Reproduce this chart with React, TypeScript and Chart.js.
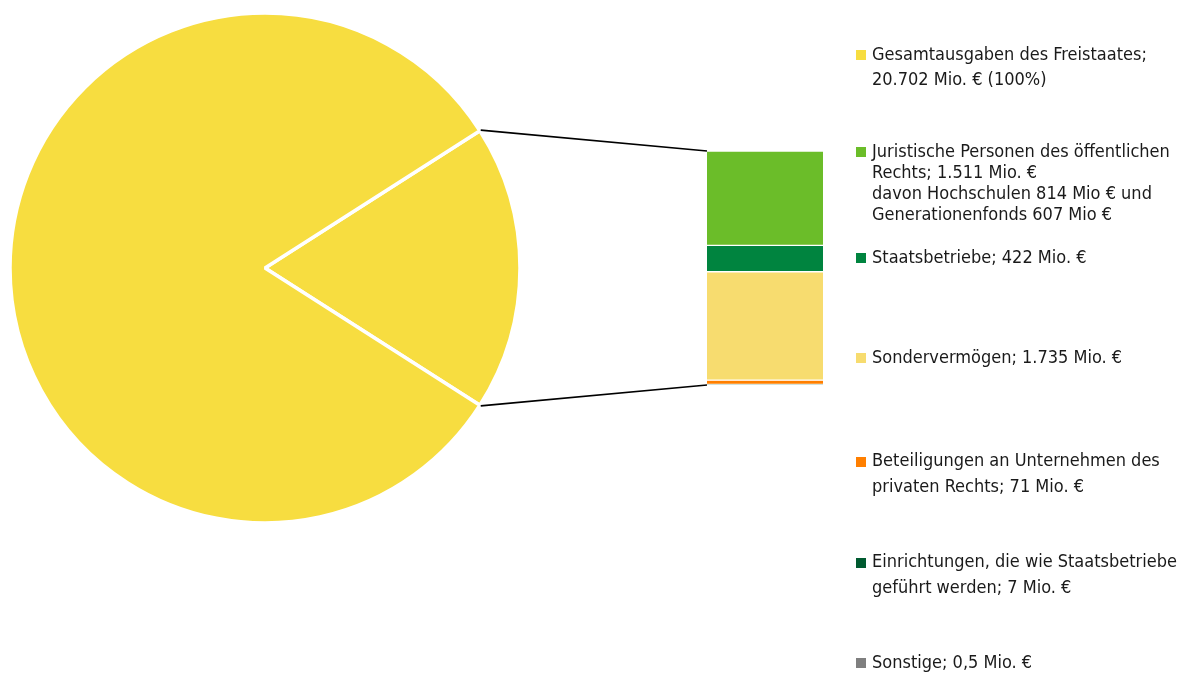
import React, { useEffect, useRef } from 'react';
import { Chart, registerables } from 'chart.js';

Chart.register(...registerables);

// ---- data ----
const totalLabel: string[] = ['Gesamtausgaben des Freistaates;', '20.702 Mio. € (100%)'];
const totalValue = 20702;
const totalColor = '#F7DD40';

const partLabels: string[][] = [
  ['Juristische Personen des öffentlichen', 'Rechts; 1.511 Mio. €', 'davon Hochschulen 814 Mio € und', 'Generationenfonds 607 Mio €'],
  ['Staatsbetriebe; 422 Mio. €'],
  ['Sondervermögen; 1.735 Mio. €'],
  ['Beteiligungen an Unternehmen des', 'privaten Rechts; 71 Mio. €'],
  ['Einrichtungen, die wie Staatsbetriebe', 'geführt werden; 7 Mio. €'],
  ['Sonstige; 0,5 Mio. €'],
];
const partValues: number[] = [1511, 422, 1735, 71, 7, 0.5];
const partColors: string[] = ['#6BBD29', '#00843F', '#F7DC6F', '#FF7F00', '#005A30', '#7F7F7F'];

// ---- layout ----
const W = 1184;
const H = 673;
const legendY = [55, 152, 258, 358, 462, 563, 663];
const legendLineH = [25, 21, 25, 25, 26, 26, 25];
const FONT = "'DejaVu Sans Condensed', 'DejaVu Sans', sans-serif";

export default function App() {
  const pieRef = useRef<HTMLCanvasElement>(null);
  const barRef = useRef<HTMLCanvasElement>(null);

  useEffect(() => {
    const smallSum = partValues.reduce((a, b) => a + b, 0);
    const rest = totalValue - smallSum;
    const smallAngle = (smallSum / totalValue) * 360;

    const pie = new Chart(pieRef.current!, {
      type: 'pie',
      data: {
        labels: ['Ausgegliedert', 'Übrige'],
        datasets: [
          {
            data: [smallSum, rest],
            backgroundColor: [totalColor, totalColor],
            borderColor: '#ffffff',
            borderWidth: 3.5,
          },
        ],
      },
      options: {
        responsive: false,
        devicePixelRatio: 1,
        animation: false,
        rotation: 90 - smallAngle / 2,
        radius: 255,
        layout: { padding: { left: 11, top: 14, right: W - 519, bottom: H - 522 } },
        plugins: { legend: { display: false }, tooltip: { enabled: false } },
      },
    });

    const connector = {
      id: 'connector',
      afterDraw(chart: any) {
        const arc: any = pie.getDatasetMeta(0).data[0];
        const { x, y, startAngle, endAngle, outerRadius } = arc.getProps(['x', 'y', 'startAngle', 'endAngle', 'outerRadius'], true);
        const r = outerRadius + 1;
        const ca = chart.chartArea;
        const ctx = chart.ctx;
        ctx.save();
        ctx.strokeStyle = '#000';
        ctx.lineWidth = 1.6;
        ctx.beginPath();
        ctx.moveTo(x + r * Math.cos(startAngle), y + r * Math.sin(startAngle));
        ctx.lineTo(ca.left, ca.top);
        ctx.moveTo(x + r * Math.cos(endAngle), y + r * Math.sin(endAngle));
        ctx.lineTo(ca.left, ca.bottom);
        ctx.stroke();
        ctx.restore();
      },
    };

    const bar = new Chart(barRef.current!, {
      type: 'bar',
      data: {
        labels: [''],
        datasets: partValues.map((v, i) => ({
          label: partLabels[i].join(' '),
          data: [v],
          backgroundColor: partColors[i],
          borderColor: '#ffffff',
          borderWidth: { top: 1, bottom: 1, left: 0, right: 0 },
          borderSkipped: false,
          categoryPercentage: 1,
          barPercentage: 1,
        })),
      },
      options: {
        responsive: false,
        devicePixelRatio: 1,
        animation: false,
        layout: { padding: { left: 707, top: 151, right: W - 823, bottom: H - 385 } },
        scales: {
          x: { display: false, stacked: true },
          y: { display: false, stacked: true, reverse: true, min: 0, max: smallSum },
        },
        plugins: { legend: { display: false }, tooltip: { enabled: false } },
      },
      plugins: [connector],
    });

    return () => {
      bar.destroy();
      pie.destroy();
    };
  }, []);

  const legendItems = [{ lines: totalLabel, color: totalColor }].concat(
    partLabels.map((l, i) => ({ lines: l, color: partColors[i] }))
  );

  return (
    <div style={{ position: 'absolute', left: 0, top: 0, width: W, height: H, overflow: 'hidden', background: '#fff' }}>
      <canvas ref={pieRef} width={W} height={H} style={{ position: 'absolute', left: 0, top: 0, display: 'block' }} />
      <canvas ref={barRef} width={W} height={H} style={{ position: 'absolute', left: 0, top: 0, display: 'block', pointerEvents: 'none' }} />
      {legendItems.map((it, i) => (
        <div key={i}>
          <div
            style={{
              position: 'absolute',
              left: 856,
              top: legendY[i] - 5,
              width: 10,
              height: 10,
              background: it.color,
            }}
          />
          <div
            style={{
              position: 'absolute',
              left: 872,
              top: legendY[i] - legendLineH[i] / 2 - 2,
              fontFamily: FONT,
              fontSize: 18,
              lineHeight: legendLineH[i] + 'px',
              color: '#1a1a1a',
              whiteSpace: 'nowrap',
            }}
          >
            {it.lines.map((l, j) => (
              <div key={j}>{l}</div>
            ))}
          </div>
        </div>
      ))}
    </div>
  );
}
